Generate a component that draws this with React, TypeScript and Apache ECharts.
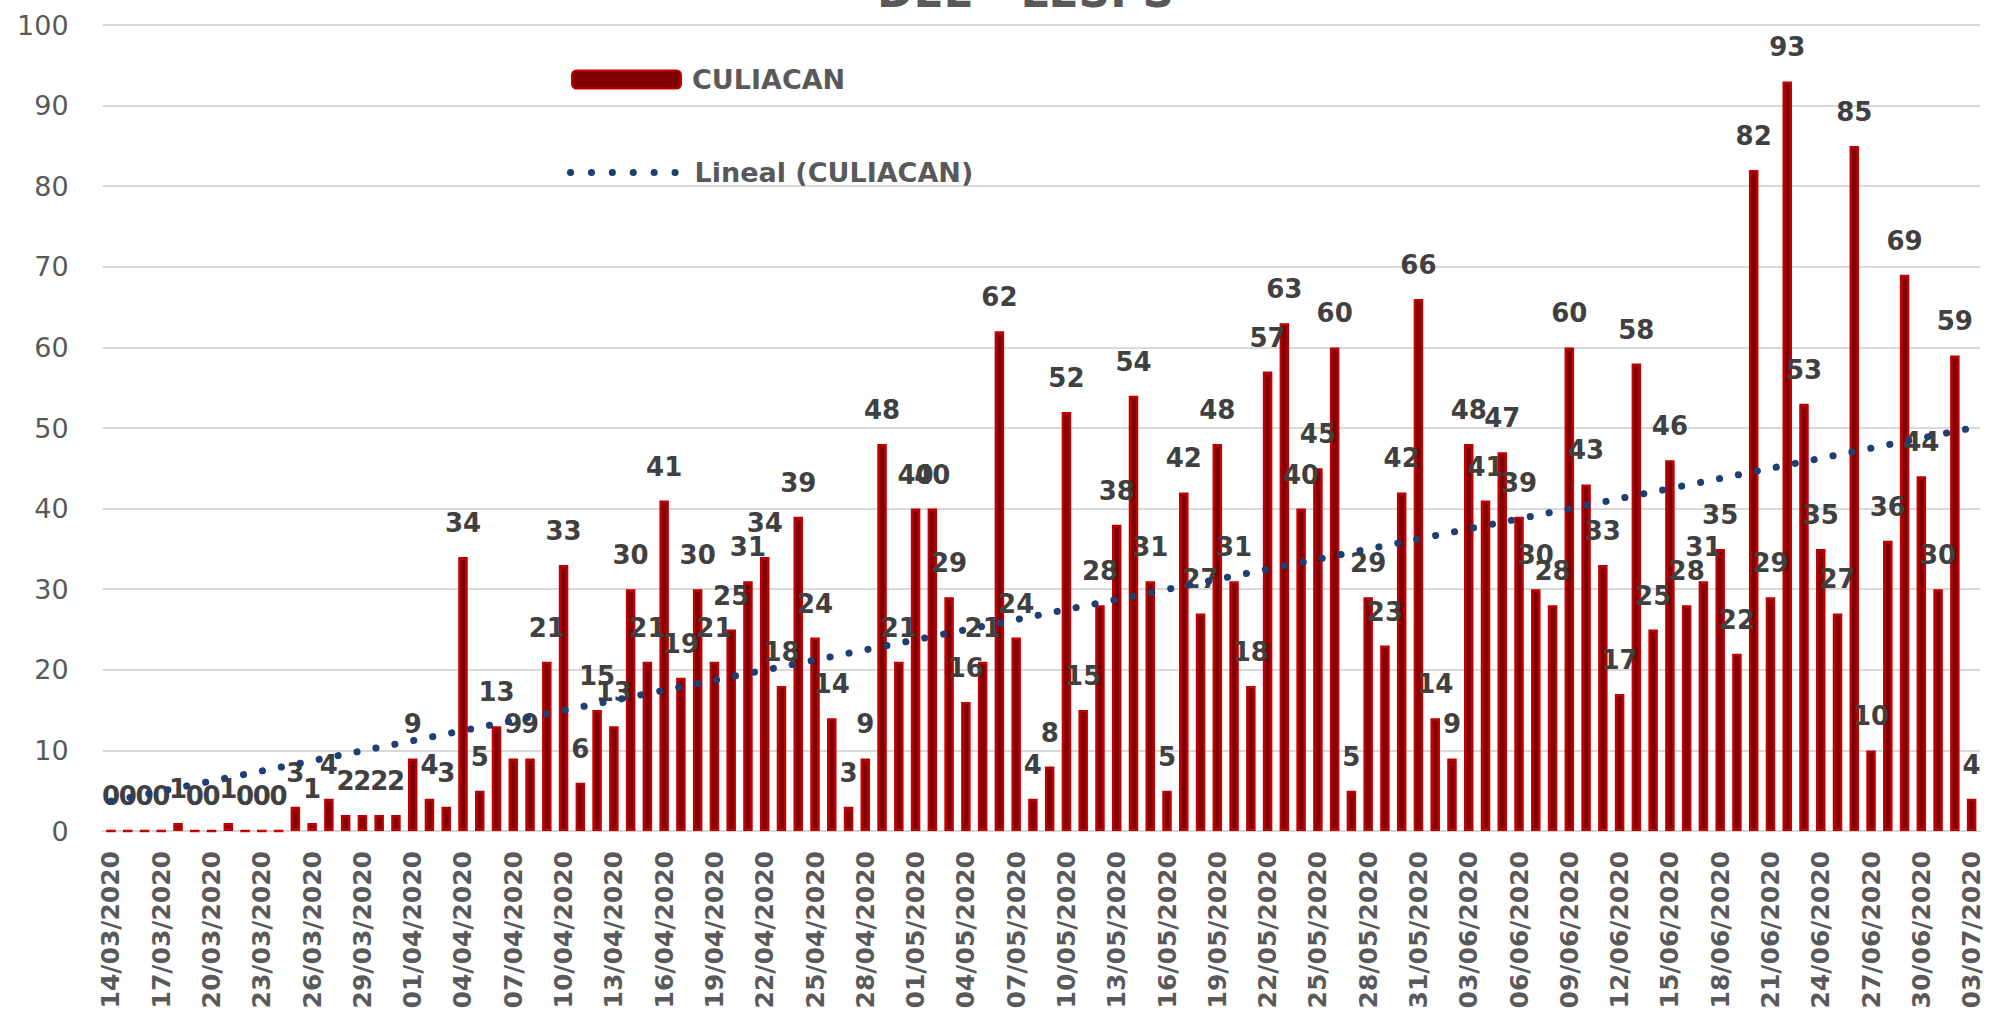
import React, { useEffect, useRef } from 'react';
import * as echarts from 'echarts';

const categories: string[] = [
  '14/03/2020', '15/03/2020', '16/03/2020', '17/03/2020', '18/03/2020', '19/03/2020', '20/03/2020', '21/03/2020', '22/03/2020',
  '23/03/2020', '24/03/2020', '25/03/2020', '26/03/2020', '27/03/2020', '28/03/2020', '29/03/2020', '30/03/2020', '31/03/2020',
  '01/04/2020', '02/04/2020', '03/04/2020', '04/04/2020', '05/04/2020', '06/04/2020', '07/04/2020', '08/04/2020', '09/04/2020', '10/04/2020',
  '11/04/2020', '12/04/2020', '13/04/2020', '14/04/2020', '15/04/2020', '16/04/2020', '17/04/2020', '18/04/2020', '19/04/2020', '20/04/2020',
  '21/04/2020', '22/04/2020', '23/04/2020', '24/04/2020', '25/04/2020', '26/04/2020', '27/04/2020', '28/04/2020', '29/04/2020', '30/04/2020',
  '01/05/2020', '02/05/2020', '03/05/2020', '04/05/2020', '05/05/2020', '06/05/2020', '07/05/2020', '08/05/2020', '09/05/2020', '10/05/2020',
  '11/05/2020', '12/05/2020', '13/05/2020', '14/05/2020', '15/05/2020', '16/05/2020', '17/05/2020', '18/05/2020', '19/05/2020', '20/05/2020',
  '21/05/2020', '22/05/2020', '23/05/2020', '24/05/2020', '25/05/2020', '26/05/2020', '27/05/2020', '28/05/2020', '29/05/2020', '30/05/2020',
  '31/05/2020',
  '01/06/2020', '02/06/2020', '03/06/2020', '04/06/2020', '05/06/2020', '06/06/2020', '07/06/2020', '08/06/2020', '09/06/2020', '10/06/2020',
  '11/06/2020', '12/06/2020', '13/06/2020', '14/06/2020', '15/06/2020', '16/06/2020', '17/06/2020', '18/06/2020', '19/06/2020', '20/06/2020',
  '21/06/2020', '22/06/2020', '23/06/2020', '24/06/2020', '25/06/2020', '26/06/2020', '27/06/2020', '28/06/2020', '29/06/2020', '30/06/2020',
  '01/07/2020', '02/07/2020', '03/07/2020',
];

const culiacan: number[] = [
  0, 0, 0, 0, 1, 0, 0, 1, 0, 0, 0, 3, 1, 4, 2, 2, 2, 2,
  9, 4, 3, 34, 5, 13, 9, 9, 21, 33, 6, 15, 13, 30, 21, 41, 19, 30, 21, 25, 31, 34, 18, 39, 24, 14, 3, 9, 48, 21,
  40, 40, 29, 16, 21, 62, 24, 4, 8, 52, 15, 28, 38, 54, 31, 5, 42, 27, 48, 31, 18, 57, 63, 40, 45, 60, 5, 29, 23, 42, 66,
  14, 9, 48, 41, 47, 39, 30, 28, 60, 43, 33, 17, 58, 25, 46, 28, 31, 35, 22, 82, 29, 93, 53, 35, 27, 85, 10, 36, 69, 44,
  30, 59, 4,
];

// Linear trendline endpoints
const trendStart = 3.7;
const trendEnd = 50;

const titleText = 'DEL - LESPS';
const barName = 'CULIACAN';
const trendName = 'Lineal (CULIACAN)';

export default function App() {
  const ref = useRef<HTMLDivElement>(null);
  useEffect(() => {
    document.body.style.margin = '0';
    const chart = echarts.init(ref.current!, null, { renderer: 'svg' });
    const legendText = {
      fontFamily: 'DejaVu Sans',
      fontWeight: 'bold',
      fontSize: 27,
      color: '#595959',
    };
    chart.setOption({
      animation: false,
      textStyle: { fontFamily: 'DejaVu Sans' },
      grid: { left: 102.6, right: 10, top: 25, bottom: 185, containLabel: false },
      graphic: [
        {
          type: 'text',
          x: 877,
          y: -9,
          style: {
            text: titleText,
            font: 'bold 44px "DejaVu Sans"',
            fill: '#595959',
            verticalAlign: 'middle',
            align: 'left',
          },
        },
      ],
      legend: [
        {
          data: [barName],
          left: 571,
          top: 66,
          padding: 0,
          itemWidth: 109,
          itemHeight: 18,
          textStyle: { ...legendText, padding: [0, 0, 0, 6] },
        },
        {
          data: [trendName],
          left: 567,
          top: 159,
          padding: 0,
          itemWidth: 110,
          itemHeight: 18,
          itemStyle: { opacity: 0 },
          lineStyle: { color: '#1F3F73', width: 7, type: [0.1, 20.8], cap: 'round' },
          textStyle: { ...legendText, padding: [0, 0, 0, 9] },
        },
      ],
      xAxis: {
        type: 'category',
        data: categories,
        boundaryGap: true,
        axisLine: { lineStyle: { color: '#D9D9D9', width: 2 } },
        axisTick: { interval: 2, length: 8, lineStyle: { color: '#D9D9D9', width: 2 } },
        axisLabel: {
          interval: 2,
          rotate: 90,
          margin: 20,
          fontFamily: 'DejaVu Sans',
          fontWeight: 'bold',
          fontSize: 25,
          color: '#595959',
        },
      },
      yAxis: {
        type: 'value',
        min: 0,
        max: 100,
        interval: 10,
        axisLine: { show: false },
        axisTick: { show: false },
        splitLine: { lineStyle: { color: '#D9D9D9', width: 2 } },
        axisLabel: { margin: 34, fontFamily: 'DejaVu Sans', fontSize: 27, color: '#595959' },
      },
      series: [
        {
          name: barName,
          type: 'bar',
          data: culiacan,
          barWidth: 9.5,
          itemStyle: { color: '#800000', borderColor: '#C00000', borderWidth: 2.5 },
          label: {
            show: true,
            position: 'top',
            distance: 21,
            fontFamily: 'DejaVu Sans',
            fontWeight: 'bold',
            fontSize: 26,
            color: '#404040',
          },
          z: 2,
        },
        {
          name: trendName,
          type: 'line',
          data: [
            [categories[0], trendStart],
            [categories[categories.length - 1], trendEnd],
          ],
          symbol: 'none',
          lineStyle: { color: '#1F3F73', width: 7, type: [0.1, 19.2], cap: 'round' },
          z: 3,
        },
      ],
    });
    return () => chart.dispose();
  }, []);
  return <div ref={ref} style={{ width: 1990, height: 1016 }} />;
}
